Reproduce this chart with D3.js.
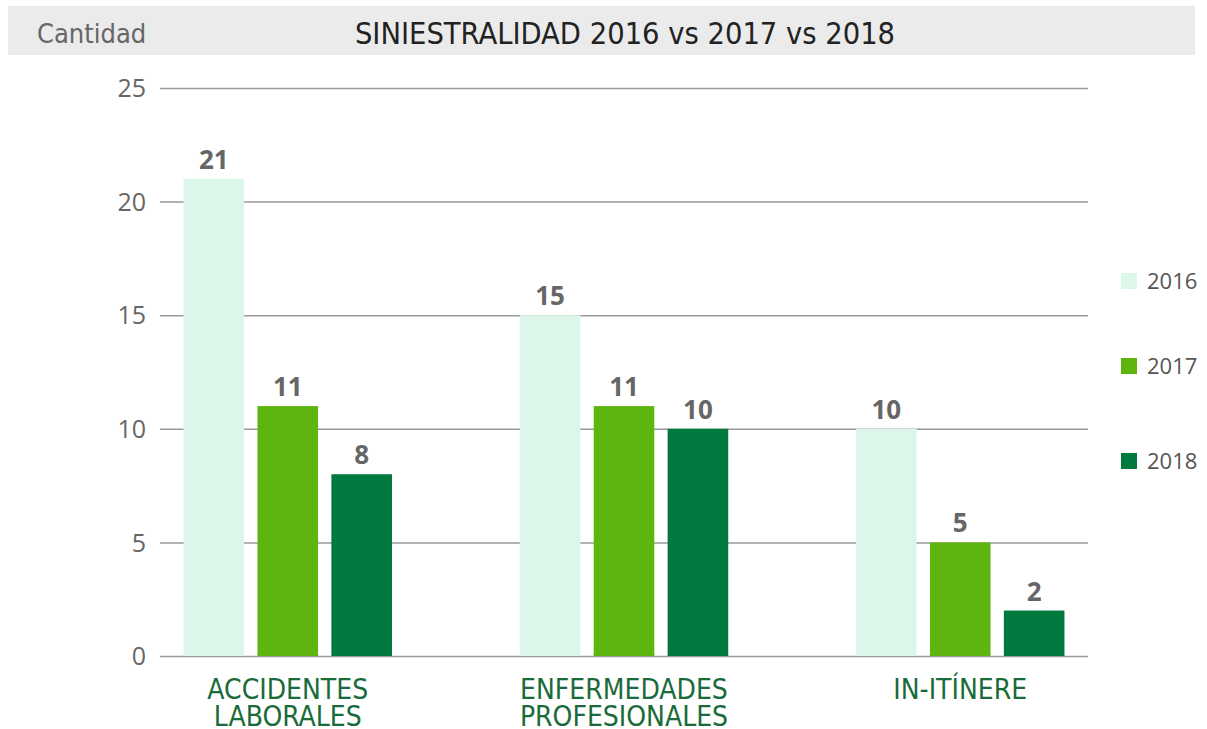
<!DOCTYPE html>
<html>
<head>
<meta charset="utf-8">
<script src="https://cdn.jsdelivr.net/npm/d3@7"></script>
<style>
  body { margin: 0; background: #fff; }
  svg { display: block; }
  .narrow { font-family: 'Liberation Sans Narrow', 'DejaVu Sans Condensed', sans-serif; }
  .sans { font-family: 'Open Sans', 'Noto Sans', sans-serif; }
</style>
</head>
<body>
<div id="chart"></div>
<script>
const WIDTH = 1207
const HEIGHT = 729

// data
const categories = [['ACCIDENTES', 'LABORALES'], ['ENFERMEDADES', 'PROFESIONALES'], ['IN-ITÍNERE']]
const years = ['2016', '2017', '2018']
const values2016 = [21, 15, 10]
const values2017 = [11, 11, 5]
const values2018 = [8, 10, 2]
const yTicks = [0, 5, 10, 15, 20, 25]

const colors = ['#dcf7ea', '#5eb50f', '#00793e']
const series = [values2016, values2017, values2018]
const catKeys = categories.map((c) => c.join(' '))

const svg = d3.select('#chart')
  .append('svg')
  .attr('width', WIDTH)
  .attr('height', HEIGHT)

// header band
svg.append('rect')
  .attr('x', 8).attr('y', 6)
  .attr('width', 1187).attr('height', 49)
  .attr('fill', '#ebebeb')

svg.append('text')
  .attr('class', 'narrow')
  .attr('x', 37).attr('y', 43)
  .attr('fill', '#666')
  .style('font-size', '27px')
  .text('Cantidad')

svg.append('text')
  .attr('class', 'narrow')
  .attr('x', 625).attr('y', 44)
  .attr('text-anchor', 'middle')
  .attr('fill', '#222')
  .style('font-size', '30.5px')
  .text('SINIESTRALIDAD 2016 vs 2017 vs 2018')

// scales
const y = d3.scaleLinear().domain([0, 25]).range([656, 88])

const x0 = d3.scaleBand()
  .domain(catKeys)
  .range([160, 1088])
  .paddingInner(0.38)
  .paddingOuter(0.07)

const x1 = d3.scaleBand()
  .domain(years)
  .range([0, x0.bandwidth()])
  .paddingInner(0.18)

// gridlines + y axis labels
const yAxis = d3.axisLeft(y)
  .tickValues(yTicks)
  .tickSize(-(1088 - 160))
  .tickPadding(14)

const gy = svg.append('g')
  .attr('transform', 'translate(160,0)')
  .call(yAxis)
gy.select('.domain').remove()
gy.selectAll('.tick line').attr('stroke', '#999').attr('stroke-width', 1.5)
gy.selectAll('.tick text')
  .attr('class', 'sans')
  .attr('fill', '#666')
  .style('font-size', '25px')
  .attr('dy', '0.35em')

// bars
const groups = svg.append('g')
  .selectAll('g')
  .data(catKeys)
  .join('g')
  .attr('transform', (d) => `translate(${x0(d)},0)`)

groups.selectAll('rect')
  .data((d, i) => years.map((yr, j) => ({ yr, v: series[j][i], c: colors[j] })))
  .join('rect')
  .attr('x', (d) => x1(d.yr))
  .attr('y', (d) => y(d.v))
  .attr('width', x1.bandwidth())
  .attr('height', (d) => y(0) - y(d.v))
  .attr('fill', (d) => d.c)

groups.selectAll('text.val')
  .data((d, i) => years.map((yr, j) => ({ yr, v: series[j][i] })))
  .join('text')
  .attr('class', 'val sans')
  .attr('x', (d) => x1(d.yr) + x1.bandwidth() / 2)
  .attr('y', (d) => y(d.v) - 10)
  .attr('text-anchor', 'middle')
  .attr('fill', '#666')
  .style('font-size', '26px')
  .style('font-weight', 'bold')
  .text((d) => d.v)

// category labels
svg.append('g')
  .selectAll('text')
  .data(categories)
  .join('text')
  .attr('class', 'narrow')
  .attr('x', (d, i) => x0(catKeys[i]) + x0.bandwidth() / 2)
  .attr('y', 699)
  .attr('text-anchor', 'middle')
  .attr('fill', '#1a6b3a')
  .style('font-size', '28px')
  .selectAll('tspan')
  .data((d) => d)
  .join('tspan')
  .attr('x', function() { return d3.select(this.parentNode).attr('x') })
  .attr('dy', (d, i) => i === 0 ? 0 : 27)
  .text((d) => d)

// legend
const legendY = [281, 366, 461]
const legend = svg.append('g')
  .selectAll('g')
  .data(years)
  .join('g')
  .attr('transform', (d, i) => `translate(1121,${legendY[i]})`)

legend.append('rect')
  .attr('x', 0).attr('y', -8)
  .attr('width', 16).attr('height', 16)
  .attr('fill', (d, i) => colors[i])

legend.append('text')
  .attr('class', 'sans')
  .attr('x', 26).attr('y', 0)
  .attr('dy', '0.35em')
  .attr('fill', '#555')
  .style('font-size', '22px')
  .text((d) => d)
</script>
</body>
</html>
